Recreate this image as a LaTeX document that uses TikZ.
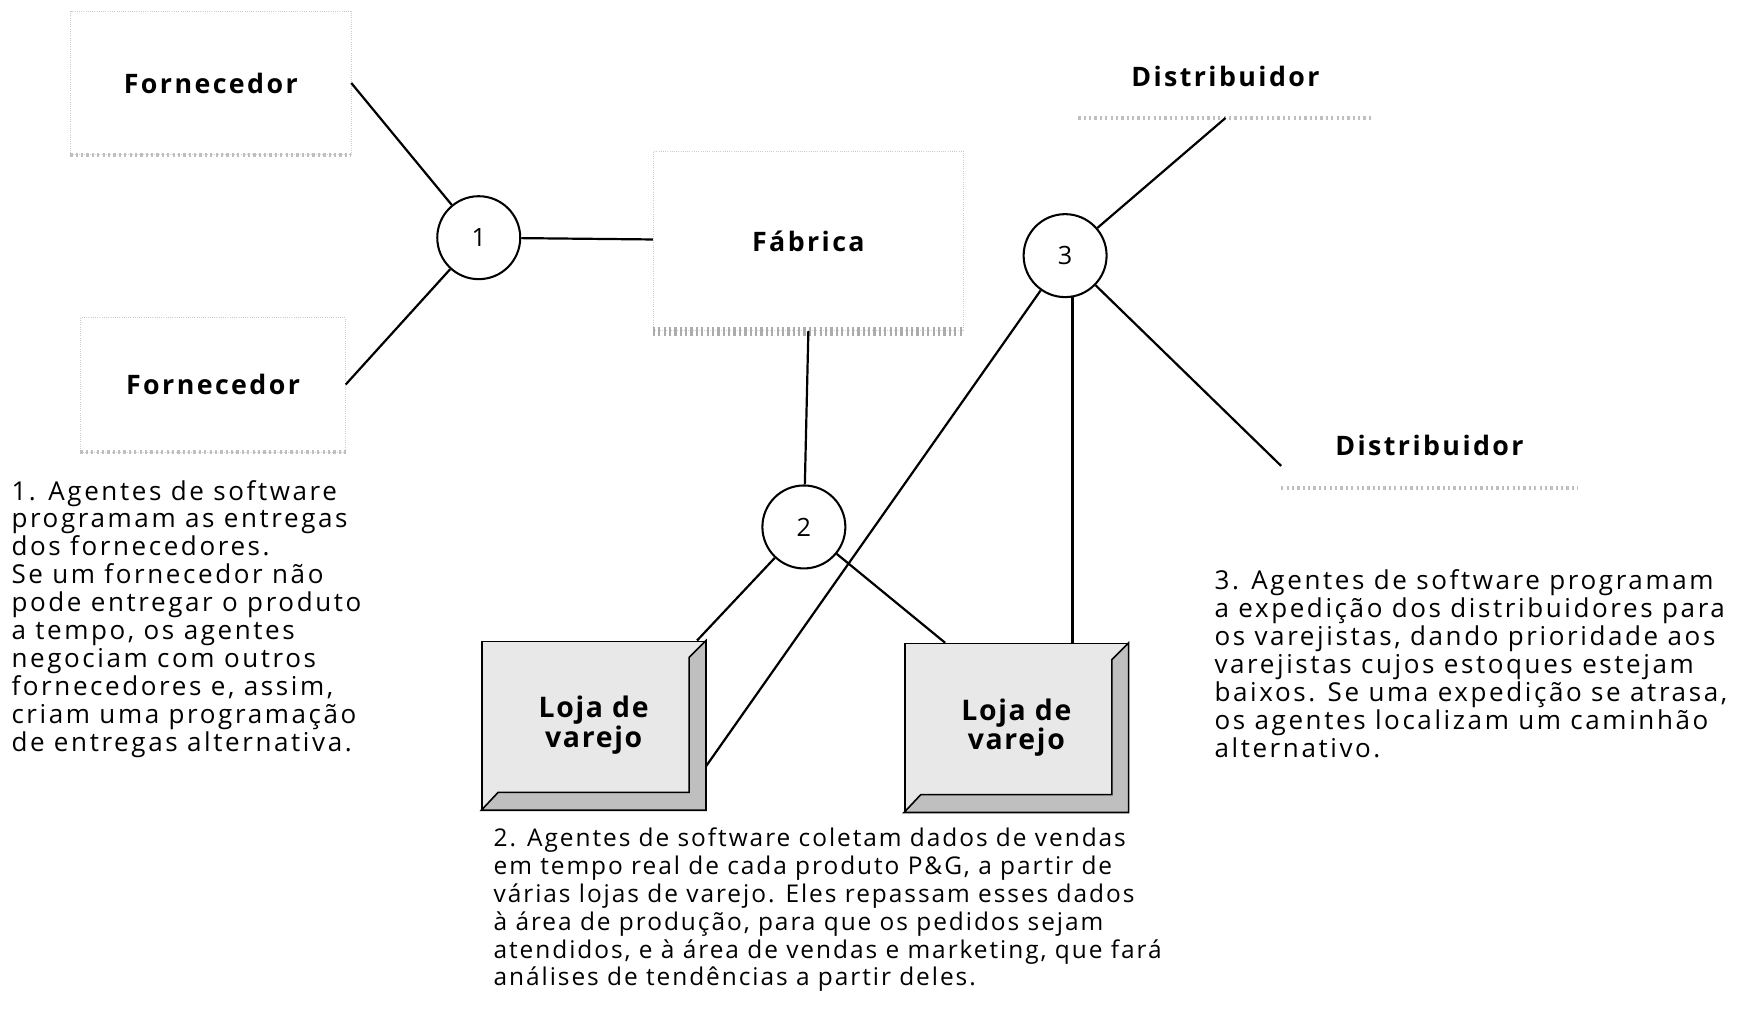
\documentclass[tikz,border=0pt]{standalone}
\usepackage{fontspec}
\setmainfont{Open Sans}[LetterSpace=6]
\usetikzlibrary{positioning}

\begin{document}
\begin{tikzpicture}[x=0.25mm,y=-0.25mm,
	knot/.style={draw,circle,line width=1.3pt,minimum size=18.5mm,inner sep=0pt,font=\fontsize{16}{18}\selectfont},
	link/.style={line width=1.4pt},
	box/.style={draw=gray!40,densely dotted,font=\bfseries\fontsize{17}{19}\selectfont\addfontfeatures{LetterSpace=9}},
	ghostbox/.style={font=\bfseries\fontsize{17}{19}\selectfont\addfontfeatures{LetterSpace=9}},
	band/.style={gray!50,line width=1mm,dash pattern=on 0.5mm off 0.7mm},
	shop/.style={draw,line width=1pt,fill=gray!18,minimum width=49.75mm,minimum height=37.5mm,align=center,font=\bfseries\fontsize{18}{19}\selectfont},
	bevel/.style={fill=gray!50,draw=black,line width=1pt},
	note/.style={align=left,anchor=north west,inner sep=0pt,font=\fontsize{16.5}{17.7}\selectfont\addfontfeatures{LetterSpace=10}},
	wide/.style={font=\fontsize{15.5}{17.7}\selectfont\addfontfeatures{LetterSpace=8}}]
	\useasboundingbox (0,0) rectangle (1568,923);

	% boxes
	\node[box,minimum width=62.5mm,minimum height=32mm] (f1) at (188,74) {Fornecedor};
	\node[box,minimum width=59mm,minimum height=30mm] (f2) at (190,343) {Fornecedor};
	\node[box,minimum width=69.25mm,minimum height=40mm] (fab) at (721,215) {Fábrica};
	\node[ghostbox,minimum width=65.5mm,minimum height=18.5mm] (d1) at (1093,68) {Distribuidor};
	\node[ghostbox,minimum width=66mm,minimum height=19mm] (d2) at (1275,397) {Distribuidor};
	\draw[band] (f1.south west) -- (f1.south east);
	\draw[band] (f2.south west) -- (f2.south east);
	\draw[band,gray!65,line width=2mm] (fab.south west) -- (fab.south east);
	\draw[band] (d1.south west) -- (d1.south east);
	\draw[band] (d2.south west) -- (d2.south east);

	% shops
	\node[shop] (l1) at (529.5,647) {Loja de\\varejo};
	\node[shop] (l2) at (906.5,649) {Loja de\\varejo};
	\foreach \s in {l1,l2}{
		\filldraw[bevel] (\s.south west) -- (\s.south east) -- (\s.north east)
			-- ([shift={(-15,15)}]\s.north east) -- ([shift={(-15,-16)}]\s.south east)
			-- ([shift={(15,-16)}]\s.south west) -- cycle;
	}

	% agents
	\node[knot] (c1) at (427,212) {1};
	\node[knot] (c2) at (717,470) {2};
	\node[knot] (c3) at (950,228) {3};

	% links
	\draw[link] (f1.east) -- (c1);
	\draw[link] (f2.east) -- (c1);
	\draw[link] (c1) -- (fab);
	\draw[link] (fab.south) -- (c2);
	\draw[link] (c2) -- ([xshift=-2mm]l1.north east);
	\draw[link] (c2) -- (l2.130);
	\draw[link] (c3) -- (d1.south);
	\draw[link] (c3) -- (d2.188);
	\draw[link] (c3) -- (l1.-20);
	\draw[link] (c3.-80) -- (c3.-80 |- l2.north);

	% notes
	\node[note] (n1) at (10,428) {1. Agentes de software\\programam as entregas\\dos fornecedores.\\Se um fornecedor não\\pode entregar o produto\\a tempo, os agentes\\negociam com outros\\fornecedores e, assim,\\criam uma programação\\de entregas alternativa.};
	\node[note,wide] (n2) at (440,738) {2. Agentes de software coletam dados de vendas\\em tempo real de cada produto P\&G, a partir de\\várias lojas de varejo. Eles repassam esses dados\\à área de produção, para que os pedidos sejam\\atendidos, e à área de vendas e marketing, que fará\\análises de tendências a partir deles.};
	\node[note] (n3) at (1083,508) {3. Agentes de software programam\\a expedição dos distribuidores para\\os varejistas, dando prioridade aos\\varejistas cujos estoques estejam\\baixos. Se uma expedição se atrasa,\\os agentes localizam um caminhão\\alternativo.};
\end{tikzpicture}
\end{document}
